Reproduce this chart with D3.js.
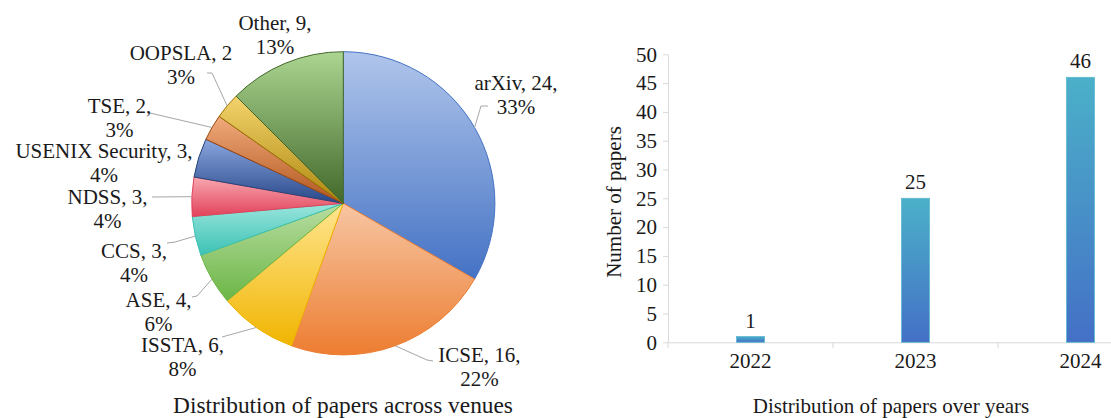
<!DOCTYPE html>
<html>
<head>
<meta charset="utf-8">
<script src="https://cdn.jsdelivr.net/npm/d3@7"></script>
<style>
  html, body { margin: 0; padding: 0; background: #fff; }
  svg { display: block; }
</style>
</head>
<body>
<svg id="chart" width="1111" height="418"></svg>
<script>
// ---------------- data ----------------
const venues = ["arXiv", "ICSE", "ISSTA", "ASE", "CCS", "NDSS", "USENIX Security", "TSE", "OOPSLA", "Other"];
const venueCounts = [24, 16, 6, 4, 3, 3, 3, 2, 2, 9];
const years = ["2022", "2023", "2024"];
const yearCounts = [1, 25, 46];
const yTickValues = [0, 5, 10, 15, 20, 25, 30, 35, 40, 45, 50];
const pieCaption = "Distribution of papers across venues";
const barCaption = "Distribution of papers over years";
const yAxisTitle = "Number of papers";

// ---------------- styles / layout ----------------
const FONT = "Liberation Serif";
const TXT = "#1a1a1a";
const sliceColors = [
  ["#b0c5eb", "#4472c4"], ["#f7c6a3", "#ed7d31"], ["#fee591", "#f1b500"],
  ["#b8dda2", "#6cb646"], ["#9ae5dd", "#3cc2b4"], ["#f7a8b0", "#e2425b"],
  ["#8ba6df", "#284889"], ["#f1aa7c", "#b1561d"], ["#f3d36c", "#ad880f"],
  ["#abd590", "#43682b"]
];
const sliceStroke = ["#4472c4", "#ed7d31", "#f0b400", "#6cb646", "#3cc2b4", "#e2425b", "#264478", "#9e480e", "#997300", "#43682b"];
const pieLabelLayout = [
  { x: 516,   y: 90,    lead: [[488, 106], [481, 106]] },
  { x: 479.5, y: 362,   lead: [[433, 361], [427, 360]] },
  { x: 182.5, y: 352,   lead: [[222, 337]] },
  { x: 158.5, y: 307,   lead: [[192, 297], [197, 296]] },
  { x: 134,   y: 258,   lead: [[167, 243], [175, 242]] },
  { x: 107.5, y: 204,   lead: [[152, 197]] },
  { x: 104,   y: 158,   lead: [] },
  { x: 119.5, y: 113,   lead: [[150, 113]] },
  { x: 181,   y: 59.5,  lead: [[207, 73], [212, 73]], noComma: true },
  { x: 275,   y: 30,    lead: [] }
];
const pieCx = 343.3, pieCy = 203.3, pieR = 151.6;
const fontSize = 21, lineH = 24, captionY = 413;

const svg = d3.select("#chart");
const defs = svg.append("defs");
function txt(sel) { return sel.style("font-family", FONT).attr("fill", TXT); }

// ---------------- pie ----------------
const total = d3.sum(venueCounts);
const pieData = venues.map((v, i) => ({ name: v, value: venueCounts[i], i }));
const pie = d3.pie().value(d => d.value).sort(null).startAngle(0).endAngle(2 * Math.PI);
const arcs = pie(pieData);
const arc = d3.arc().innerRadius(0).outerRadius(pieR);
const edgeArc = d3.arc().innerRadius(pieR).outerRadius(pieR);

sliceColors.forEach((c, i) => {
  const g = defs.append("linearGradient").attr("id", "sg" + i)
    .attr("x1", 0).attr("y1", 0).attr("x2", 0).attr("y2", 1);
  g.append("stop").attr("offset", "0%").attr("stop-color", c[0]);
  g.append("stop").attr("offset", "100%").attr("stop-color", c[1]);
});

const pg = svg.append("g").attr("transform", `translate(${pieCx},${pieCy})`);
pg.selectAll("path.slice").data(arcs).join("path")
  .attr("class", "slice")
  .attr("d", arc)
  .attr("fill", d => `url(#sg${d.data.i})`)
  .attr("stroke", d => sliceStroke[d.data.i])
  .attr("stroke-width", 1)
  .attr("stroke-linejoin", "round");

// leader lines
const lg = svg.append("g");
arcs.forEach(d => {
  const L = pieLabelLayout[d.data.i];
  if (!L.lead.length) return;
  const c = edgeArc.centroid(d);
  const pts = L.lead.concat([[pieCx + c[0], pieCy + c[1]]]);
  lg.append("path").attr("d", d3.line()(pts))
    .attr("fill", "none").attr("stroke", "#a6a6a6").attr("stroke-width", 1);
});

// labels
arcs.forEach(d => {
  const L = pieLabelLayout[d.data.i];
  const pct = Math.round(d.data.value / total * 100) + "%";
  const t = txt(svg.append("text")).attr("text-anchor", "middle").attr("font-size", fontSize);
  t.append("tspan").attr("x", L.x).attr("y", L.y)
    .text(`${d.data.name}, ${d.data.value}${L.noComma ? "" : ","}`);
  t.append("tspan").attr("x", L.x).attr("y", L.y + lineH).text(pct);
});

const pc = txt(svg.append("text")).attr("x", 343).attr("y", captionY).attr("text-anchor", "middle")
  .attr("font-size", fontSize).text(pieCaption);
// reference caption spans ~340px
pc.attr("font-size", fontSize * 340 / pc.node().getComputedTextLength());

// ---------------- bar chart ----------------
const x = d3.scaleBand().domain(years).range([668, 1163]).padding(0);
const y = d3.scaleLinear().domain([0, 50]).range([342.3, 54.3]);
const barW = 28;

const bgGrad = defs.append("linearGradient").attr("id", "barGrad")
  .attr("x1", 0).attr("y1", 0).attr("x2", 0).attr("y2", 1);
bgGrad.append("stop").attr("offset", "0%").attr("stop-color", "#4bb0c9");
bgGrad.append("stop").attr("offset", "100%").attr("stop-color", "#4470c6");

// y axis
const yAxis = svg.append("g").attr("transform", "translate(668,0)")
  .call(d3.axisLeft(y).tickValues(yTickValues).tickSize(5).tickSizeOuter(0).tickPadding(6));
yAxis.select(".domain").attr("stroke", "#d9d9d9");
yAxis.selectAll(".tick line").attr("stroke", "#d9d9d9");
txt(yAxis.selectAll(".tick text")).attr("font-size", fontSize);

// x axis
const xAxis = svg.append("g").attr("transform", `translate(0,${y(0)})`)
  .call(d3.axisBottom(x).tickSize(0).tickSizeOuter(0).tickPadding(11));
xAxis.select(".domain").attr("stroke", "#d9d9d9");
txt(xAxis.selectAll(".tick text")).attr("font-size", fontSize);
xAxis.selectAll("line.btick").data(years.map(v => x(v)).concat([x.range()[1]])).join("line")
  .attr("class", "btick")
  .attr("x1", d => d).attr("x2", d => d).attr("y1", 0).attr("y2", 6)
  .attr("stroke", "#d9d9d9");

// bars
svg.append("g").selectAll("rect").data(years).join("rect")
  .attr("x", d => x(d) + x.bandwidth() / 2 - barW / 2)
  .attr("y", (d, i) => y(yearCounts[i]))
  .attr("width", barW)
  .attr("height", (d, i) => y(0) - y(yearCounts[i]))
  .attr("fill", "url(#barGrad)")
  .attr("stroke", "#5bb8d0").attr("stroke-width", 0.8);

// bar value labels
txt(svg.append("g").selectAll("text").data(years).join("text"))
  .attr("x", d => x(d) + x.bandwidth() / 2)
  .attr("y", (d, i) => y(yearCounts[i]) - 9)
  .attr("text-anchor", "middle").attr("font-size", fontSize)
  .text((d, i) => yearCounts[i]);

// y axis title
txt(svg.append("text")).attr("transform", "translate(621,202) rotate(-90)")
  .attr("text-anchor", "middle").attr("font-size", fontSize).text(yAxisTitle);

txt(svg.append("text")).attr("x", 891).attr("y", captionY).attr("text-anchor", "middle")
  .attr("font-size", fontSize).text(barCaption);
</script>
</body>
</html>
